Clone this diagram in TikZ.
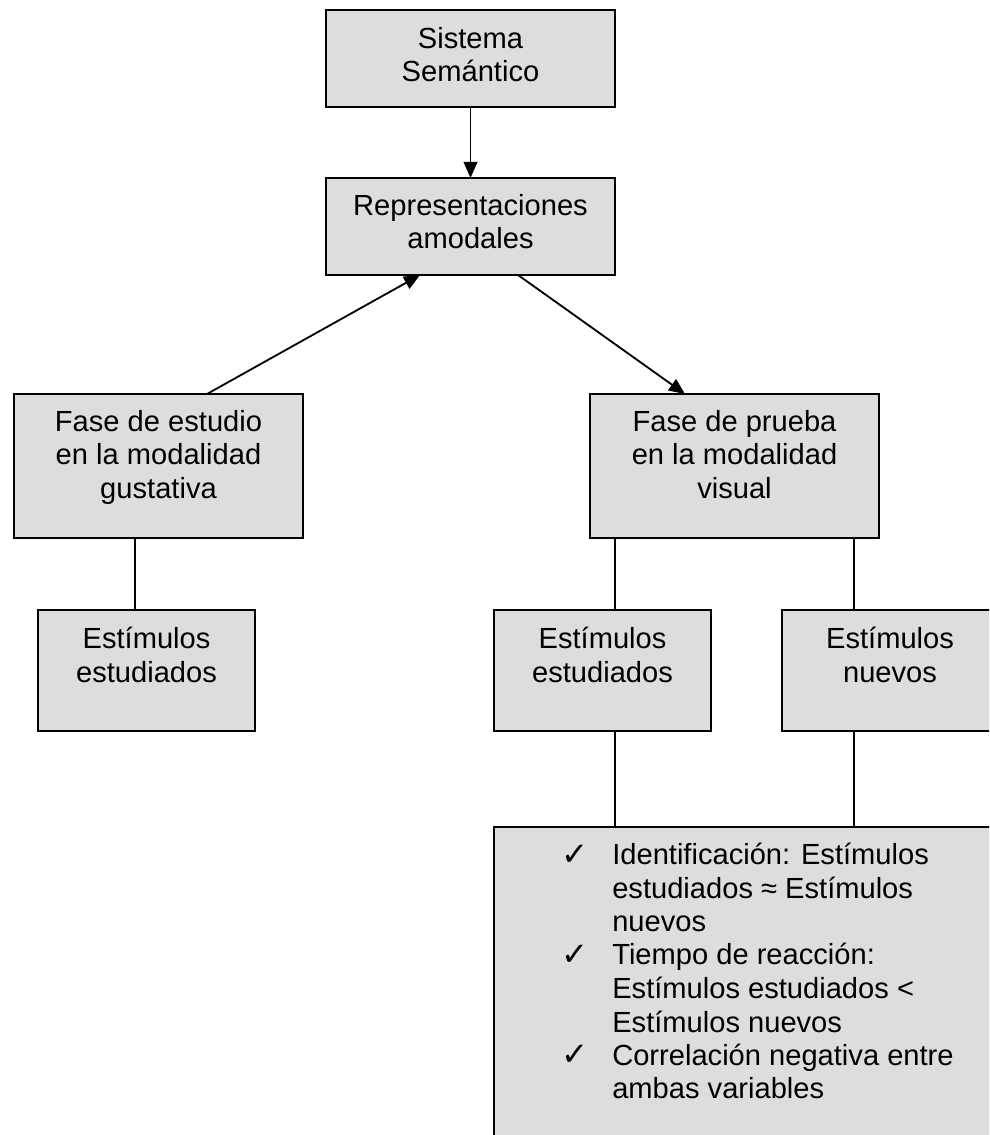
\documentclass[tikz,border=0pt]{standalone}
\usepackage{fontspec}
\setmainfont{Liberation Sans}
\newfontfamily\symfont{DejaVu Sans}
\usetikzlibrary{arrows.meta,fit,calc}
\definecolor{boxgray}{RGB}{221,221,221}
\begin{document}
\begin{tikzpicture}[x=0.025cm,y=-0.025cm,
  box/.style={draw=black, fill=boxgray, line width=1.4pt, inner sep=0pt, outer sep=0pt},
  txt/.style={font=\fontsize{20.7}{23.9}\selectfont, align=center, inner sep=0pt, anchor=base},
  itm/.style={font=\fontsize{20.7}{23.9}\selectfont, align=left, inner sep=0pt, anchor=base west},
  chk/.style={font=\symfont\fontsize{23}{25}\selectfont, inner sep=0pt, anchor=base},
  conn/.style={line width=1.3pt},
  arr/.style={line width=1.3pt, -{Triangle[length=0.4cm, width=0.34cm]}}
]
\useasboundingbox (0,0) rectangle (989,1135);
\clip (0,0) rectangle (989,1135);
% box corners
\coordinate (a1) at (326,10);   \coordinate (a2) at (615,107);
\coordinate (b1) at (326,178);  \coordinate (b2) at (615,275);
\coordinate (c1) at (14,394);   \coordinate (c2) at (303,538);
\coordinate (d1) at (590,394);  \coordinate (d2) at (879,538);
\coordinate (e1) at (38,610);   \coordinate (e2) at (255,731);
\coordinate (f1) at (494,610);  \coordinate (f2) at (711,731);
\coordinate (g1) at (782,610);  \coordinate (g2) at (998,731);
\coordinate (h1) at (494,827);  \coordinate (h2) at (1012,1152);
% boxes
\node[box, fit=(a1)(a2)] (A) {};
\node[box, fit=(b1)(b2)] (B) {};
\node[box, fit=(c1)(c2)] (C) {};
\node[box, fit=(d1)(d2)] (D) {};
\node[box, fit=(e1)(e2)] (E) {};
\node[box, fit=(f1)(f2)] (F) {};
\node[box, fit=(g1)(g2)] (G) {};
\node[box, fit=(h1)(h2)] (H) {};
% texts (anchor base = baseline of the last line)
\node[txt] (tA) at (470.5,81.7) {Sistema\\Semántico};
\node[txt] (tB) at (470.5,249) {Representaciones\\amodales};
\node[txt] (tC) at (158.5,498.5) {Fase de estudio\\en la modalidad\\gustativa};
\node[txt] (tD) at (734.5,498.5) {Fase de prueba\\en la modalidad\\visual};
\node[txt] (tE) at (146.5,682) {Estímulos\\estudiados};
\node[txt] (tF) at (602.5,682) {Estímulos\\estudiados};
\node[txt] (tG) at (890,682) {Estímulos\\nuevos};
\node[chk] (k1) at (575,865) {✓};
\node[itm] (i1) at (612,931.8) {Identificación: Estímulos\\estudiados ≈ Estímulos\\nuevos};
\node[chk] (k2) at (575,965.2) {✓};
\node[itm] (i2) at (612,1032) {Tiempo de reacción:\\Estímulos estudiados <\\Estímulos nuevos};
\node[chk] (k3) at (575,1065.4) {✓};
\node[itm] (i3) at (612,1098.8) {Correlación negativa entre\\ambas variables};
% connectors
\draw[arr] (A.south) -- (B.north);
\draw[arr] ($(C.north west)+(193,0)$) -- ($(B.south west)+(94,0)$);
\draw[arr] ($(B.south west)+(192,0)$) -- ($(D.north west)+(95,0)$);
\draw[conn] ($(C.south west)+(121,0)$) -- ($(E.north west)+(97,0)$);
\draw[conn] ($(D.south west)+(25,0)$) -- ($(F.north west)+(121,0)$);
\draw[conn] ($(D.south west)+(264,0)$) -- ($(G.north west)+(72,0)$);
\draw[conn] ($(F.south west)+(121,0)$) -- ($(H.north west)+(121,0)$);
\draw[conn] ($(G.south west)+(72,0)$) -- ($(H.north west)+(360,0)$);
\end{tikzpicture}
\end{document}
